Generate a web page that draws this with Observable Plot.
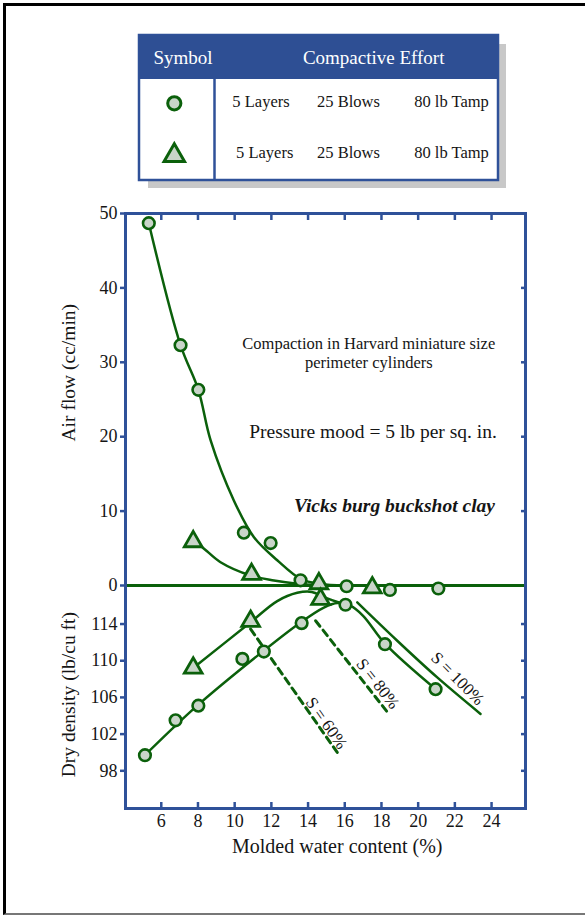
<!DOCTYPE html>
<html><head><meta charset="utf-8">
<script src="https://cdn.jsdelivr.net/npm/d3@7"></script>
<script src="https://cdn.jsdelivr.net/npm/@observablehq/plot@0.6"></script>
<style>
html,body{margin:0;padding:0;background:#fff;}
#page{position:relative;width:585px;height:916px;overflow:hidden;font-family:'Liberation Serif','Times New Roman',serif;}
#page svg, #page svg text{font-family:'Liberation Serif','Times New Roman',serif !important;}
#border{position:absolute;left:3px;top:3px;width:600px;height:907px;border-top:3px solid #000;border-left:3px solid #000;border-bottom:2px solid #777;}
</style></head><body><div id="page"><div id="border"></div></div>
<script>
// ---- legend ----
const legendHeader = ["Symbol", "Compactive Effort"];
const legendSymbols = ["circle", "triangle"];
const legendLayers = ["5 Layers", "5 Layers"];
const legendBlows = ["25 Blows", "25 Blows"];
const legendTamp = ["80 lb Tamp", "80 lb Tamp"];

// ---- measured points ----
const waterCircleAir = [5.32, 7.05, 8.02, 10.5, 11.96, 13.59, 16.1, 18.46, 21.1];
const airFlowCircle  = [48.7, 32.3, 26.3, 7.1, 5.7, 0.7, -0.1, -0.6, -0.4];
const waterTriAir = [7.74, 10.92, 14.59, 17.5];
const airFlowTri  = [5.9, 1.5, 0.25, -0.3];
const waterCircleDen = [5.11, 6.78, 8.02, 10.42, 11.59, 13.65, 16.04, 18.19, 20.95];
const densityCircle  = [99.7, 103.5, 105.1, 110.2, 111.0, 114.1, 116.1, 111.8, 106.9];
const waterTriDen = [7.74, 10.87, 14.68];
const densityTri  = [109.2, 114.3, 116.7];

// ---- fitted curves ----
const airCircleFitX = [5.32, 7.05, 8.02, 8.69, 9.96, 11.05, 12.32, 13.59, 14.68, 16.0];
const airCircleFitY = [48.7, 32.3, 26.3, 19.5, 11.4, 6.5, 3.4, 0.9, 0.2, 0];
const airTriFitX = [7.74, 8.23, 9.23, 10.87, 12.14, 13.41, 14.5, 15.5];
const airTriFitY = [5.9, 5.15, 3.13, 1.34, 0.67, 0.23, 0.05, 0];
const denCircleFitX = [5.11, 7.96, 11.59, 13.59, 14.86, 15.6, 16.3, 17.0, 18.22, 20.95];
const denCircleFitY = [99.7, 105.1, 111.1, 114.17, 115.8, 116.3, 116.0, 114.9, 111.8, 106.9];
const denTriFitX = [7.74, 10.87, 12.32, 13.41, 14.2, 14.9, 15.6, 16.3];
const denTriFitY = [109.2, 114.2, 116.5, 117.4, 117.5, 116.9, 116.4, 116.0];

// saturation lines
const s100X = [16.68, 18.86, 21.04, 23.4];
const s100Y = [116.36, 112.18, 108.18, 104.2];
const s80X = [14.41, 18.4];
const s80Y = [114.36, 104.2];
const s60X = [10.87, 15.59];
const s60Y = [113.45, 100.0];
const sLabels = ["S = 60%", "S = 80%", "S = 100%"];
const sLabelX = [15.0, 17.8, 22.15];
const sLabelY = [103.2, 107.5, 108.05];
const sLabelAngle = [55, 52, 45];

// ticks
const waterTicks = [6, 8, 10, 12, 14, 16, 18, 20, 22, 24];
const airTicks = [0, 10, 20, 30, 40, 50];
const densityTicks = [98, 102, 106, 110, 114];

// texts
const xTitle = "Molded water content (%)";
const airTitle = "Air flow (cc/min)";
const denTitle = "Dry density (lb/cu ft)";
const note1 = "Compaction in Harvard miniature size\nperimeter cylinders";
const note2 = "Pressure mood = 5 lb per sq. in.";
const note3 = "Vicks burg buckshot clay";

const pts = (xs, ys) => xs.map((x, i) => ({x, y: ys[i]}));

const blue = "#2f5199";
const green = "#0b600b";
const mfill = "#c9d5c9";
const font = "'Liberation Serif','Times New Roman',serif";
const ink = "#151515";

const page = document.getElementById("page");

const common = {
  width: 585, height: 916,
  marginTop: 213, marginBottom: 108, marginLeft: 125, marginRight: 60,
  x: {domain: [4.05, 25.85], label: null},
  style: {position: "absolute", left: "0px", top: "0px", background: "transparent", fontFamily: font, overflow: "visible", color: ink}
};
const tf = {fontFamily: font, fill: ink};

// ---- upper panel: air flow ----
const airPlot = Plot.plot({
  ...common,
  y: {domain: [0, 50], range: [585, 213], label: null},
  marks: [
    Plot.axisX({anchor: "top", ticks: waterTicks, tickSize: 6, dy: 6, fill: "none", stroke: blue, strokeWidth: 2.5, label: null}),
    Plot.axisY({ticks: airTicks, tickSize: 5, fill: "none", stroke: blue, strokeWidth: 2.5, label: null}),
    Plot.axisY({ticks: airTicks, tickSize: 0, tickPadding: 8, fontSize: 18, ...tf, label: null}),
    Plot.axisY({anchor: "right", ticks: airTicks.filter(d => d > 0 && d < 50), tickSize: 5, dx: -5, fill: "none", stroke: blue, strokeWidth: 2.5, label: null}),
    Plot.ruleY([0], {stroke: green, strokeWidth: 3}),
    Plot.line(pts(airCircleFitX, airCircleFitY), {x: "x", y: "y", curve: "catmull-rom", stroke: green, strokeWidth: 2.5}),
    Plot.line(pts(airTriFitX, airTriFitY), {x: "x", y: "y", curve: "catmull-rom", stroke: green, strokeWidth: 2.5}),
    Plot.dot(pts(waterCircleAir, airFlowCircle), {x: "x", y: "y", r: 5.8, symbol: "circle", fill: mfill, stroke: green, strokeWidth: 2.6}),
    Plot.dot(pts(waterTriAir, airFlowTri), {x: "x", y: "y", r: 6.6, symbol: "triangle", fill: mfill, stroke: green, strokeWidth: 2.8, strokeLinejoin: "miter"}),
    Plot.text([note1], {x: 17.31, y: 31.36, text: d => d, fontSize: 16.5, lineHeight: 1.2, ...tf}),
    Plot.text([note2], {x: 17.54, y: 20.6, text: d => d, fontSize: 19.5, ...tf}),
    Plot.text([note3], {x: 18.71, y: 10.75, text: d => d, fontSize: 19.5, fontWeight: "bold", fontStyle: "italic", ...tf}),
    Plot.text([airTitle], {y: 28.6, frameAnchor: "left", textAnchor: "middle", dx: -57, rotate: -90, text: d => d, fontSize: 19.5, ...tf})
  ]
});
page.appendChild(airPlot);

// ---- lower panel: dry density ----
const denPlot = Plot.plot({
  ...common,
  y: {domain: [94, 118.2], range: [807, 585], label: null},
  marks: [
    Plot.line(pts(s60X, s60Y), {x: "x", y: "y", stroke: green, strokeWidth: 3, strokeDasharray: "7,5"}),
    Plot.line(pts(s80X, s80Y), {x: "x", y: "y", stroke: green, strokeWidth: 3, strokeDasharray: "7,5"}),
    Plot.line(pts(s100X, s100Y), {x: "x", y: "y", curve: "catmull-rom", stroke: green, strokeWidth: 2.5}),
    Plot.line(pts(denCircleFitX, denCircleFitY), {x: "x", y: "y", curve: "catmull-rom", stroke: green, strokeWidth: 2.5}),
    Plot.line(pts(denTriFitX, denTriFitY), {x: "x", y: "y", curve: "catmull-rom", stroke: green, strokeWidth: 2.5}),
    Plot.dot(pts(waterCircleDen, densityCircle), {x: "x", y: "y", r: 5.8, symbol: "circle", fill: mfill, stroke: green, strokeWidth: 2.6}),
    Plot.dot(pts(waterTriDen, densityTri), {x: "x", y: "y", r: 6.6, symbol: "triangle", fill: mfill, stroke: green, strokeWidth: 2.8, strokeLinejoin: "miter"}),
    Plot.text(sLabels, {x: (d, i) => sLabelX[i], y: (d, i) => sLabelY[i], rotate: (d, i) => sLabelAngle[i], text: d => d, fontSize: 17, ...tf}),
    Plot.frame({stroke: blue, strokeWidth: 3}),
    Plot.axisY({ticks: densityTicks, tickSize: 5, fill: "none", stroke: blue, strokeWidth: 2.5, label: null}),
    Plot.axisY({ticks: densityTicks, tickSize: 0, tickPadding: 8, fontSize: 18, ...tf, label: null}),
    Plot.axisY({anchor: "right", ticks: densityTicks, tickSize: 5, dx: -5, fill: "none", stroke: blue, strokeWidth: 2.5, label: null}),
    Plot.axisX({anchor: "bottom", ticks: waterTicks, tickSize: 6, dy: -6, fill: "none", stroke: blue, strokeWidth: 2.5, label: null}),
    Plot.axisX({anchor: "bottom", ticks: waterTicks, tickSize: 0, tickPadding: 6, fontSize: 18, ...tf, label: null}),
    Plot.text([xTitle], {x: 15.59, frameAnchor: "bottom", dy: 44, text: d => d, fontSize: 20, ...tf}),
    Plot.text([denTitle], {y: 106.3, frameAnchor: "left", textAnchor: "middle", dx: -57, rotate: -90, text: d => d, fontSize: 19.5, ...tf})
  ]
});
page.appendChild(denPlot);

// ---- legend table ----
const leg = d3.select(page).append("svg")
  .attr("width", 585).attr("height", 200)
  .style("position", "absolute").style("left", "0px").style("top", "0px")
  .style("font-family", font);
leg.append("rect").attr("x", 148).attr("y", 44).attr("width", 358).attr("height", 144).attr("fill", "#c8c8c8");
leg.append("rect").attr("x", 139).attr("y", 35).attr("width", 359).attr("height", 145).attr("fill", "#fff").attr("stroke", blue).attr("stroke-width", 2.5);
leg.append("rect").attr("x", 139).attr("y", 35).attr("width", 359).attr("height", 44).attr("fill", "#2e4f94");
leg.append("line").attr("x1", 214.5).attr("x2", 214.5).attr("y1", 79).attr("y2", 180).attr("stroke", blue).attr("stroke-width", 2.5);
leg.selectAll("text.h").data(legendHeader).join("text")
  .attr("x", (d, i) => [183, 373.7][i]).attr("y", 57).attr("dy", "0.35em")
  .attr("text-anchor", "middle").attr("fill", "#fff").attr("font-size", 19).text(d => d);
const rowY = [101, 152.5];
const symY = [103.3, 155.5];
legendSymbols.forEach((s, i) => {
  const sym = s === "circle" ? d3.symbolCircle : d3.symbolTriangle;
  const r = s === "circle" ? 6.6 : 7.6;
  leg.append("path").attr("d", d3.symbol(sym, Math.PI * r * r)())
    .attr("transform", `translate(174.3,${symY[i]})`)
    .attr("fill", mfill).attr("stroke", green).attr("stroke-width", 3);
  const cols = [[legendLayers[i], i === 0 ? 261 : 264.7], [legendBlows[i], 348.5], [legendTamp[i], 451.5]];
  cols.forEach(([t, x]) => {
    leg.append("text").attr("x", x).attr("y", rowY[i]).attr("dy", "0.35em")
      .attr("text-anchor", "middle").attr("fill", ink).attr("font-size", 16.5).text(t);
  });
});
</script></body></html>
